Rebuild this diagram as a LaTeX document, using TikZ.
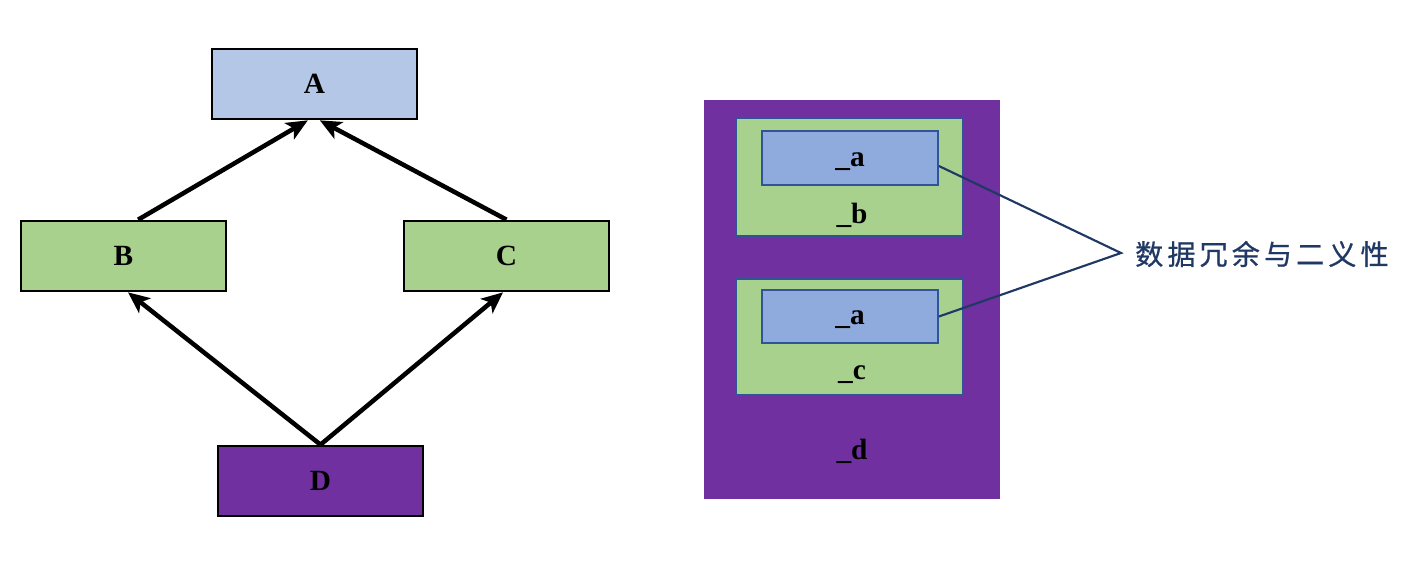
\documentclass[tikz,border=0pt]{standalone}
\usepackage{fontspec}
\setmainfont{Liberation Serif}
\newfontfamily\cjk[FakeBold=0.8]{Noto Sans CJK SC}
\usetikzlibrary{arrows.meta}
\definecolor{cA}{HTML}{B4C7E7}
\definecolor{cG}{HTML}{A9D18E}
\definecolor{cP}{HTML}{7030A0}
\definecolor{cBa}{HTML}{8FAADC}
\definecolor{cBd}{HTML}{2F5597}
\definecolor{cNavy}{HTML}{203864}
\tikzset{
  box/.style={draw=black, line width=2pt, minimum width=153.75pt, minimum height=52.5pt, inner sep=0pt, font=\fontsize{22}{25}\selectfont\bfseries},
  arr/.style={line width=3.4pt, -{Stealth[length=16pt,width=14pt,inset=4pt]}},
  inbox/.style={draw=cBd, line width=1.4pt, inner sep=0pt},
  lbl/.style={font=\fontsize{22}{25}\selectfont\bfseries, inner sep=0pt},
  link/.style={draw=cNavy, line width=1.6pt}
}
\begin{document}
\begin{tikzpicture}[x=0.75pt,y=-0.75pt]
\useasboundingbox (0,0) rectangle (1424,586);
% left graph
\node[box, fill=cA] (A) at (314.5,84) {A};
\node[box, fill=cG] (B) at (123.5,256) {B};
\node[box, fill=cG] (C) at (506.5,256) {C};
\node[box, fill=cP] (D) at (320.5,481) {D};
\draw[arr] ([xshift=11pt]B.north) -- ([xshift=-5pt]A.south);
\draw[arr] (C.north) -- ([xshift=4pt]A.south);
\draw[arr] (D.north) -- ([xshift=3.4pt]B.south);
\draw[arr] (D.north) -- ([xshift=-2.6pt]C.south);
% right diagram
\node[fill=cP, minimum width=222pt, minimum height=299.25pt, inner sep=0pt] (dbox) at (852,299.5) {};
\node[inbox, fill=cG, minimum width=170.25pt, minimum height=88.5pt] (bbox) at (849.5,177) {};
\node[inbox, fill=cBa, minimum width=132pt, minimum height=40.5pt] (a1) at (850,158) {};
\node[lbl] (a1l) at (850,162) {\_a};
\node[lbl] (bl) at (852,215) {\_b};
\node[inbox, fill=cG, minimum width=170.25pt, minimum height=87pt] (cbox) at (849.5,337) {};
\node[inbox, fill=cBa, minimum width=132pt, minimum height=39.75pt] (a2) at (850,316.5) {};
\node[lbl] (a2l) at (850,320) {\_a};
\node[lbl] (cl) at (852,375) {\_c};
\node[lbl] (dl) at (852,451) {\_d};
\coordinate (tip) at (1121,253);
\node[anchor=west, inner sep=0pt, text=cNavy, font=\cjk\fontsize{21}{24}\selectfont] (note) at (1135,254) {\makebox[190pt][s]{数\hfill 据\hfill 冗\hfill 余\hfill 与\hfill 二\hfill 义\hfill 性}};
\draw[link] ([yshift=-6pt]a1.east) -- (tip) -- (a2.east);
\end{tikzpicture}
\end{document}
